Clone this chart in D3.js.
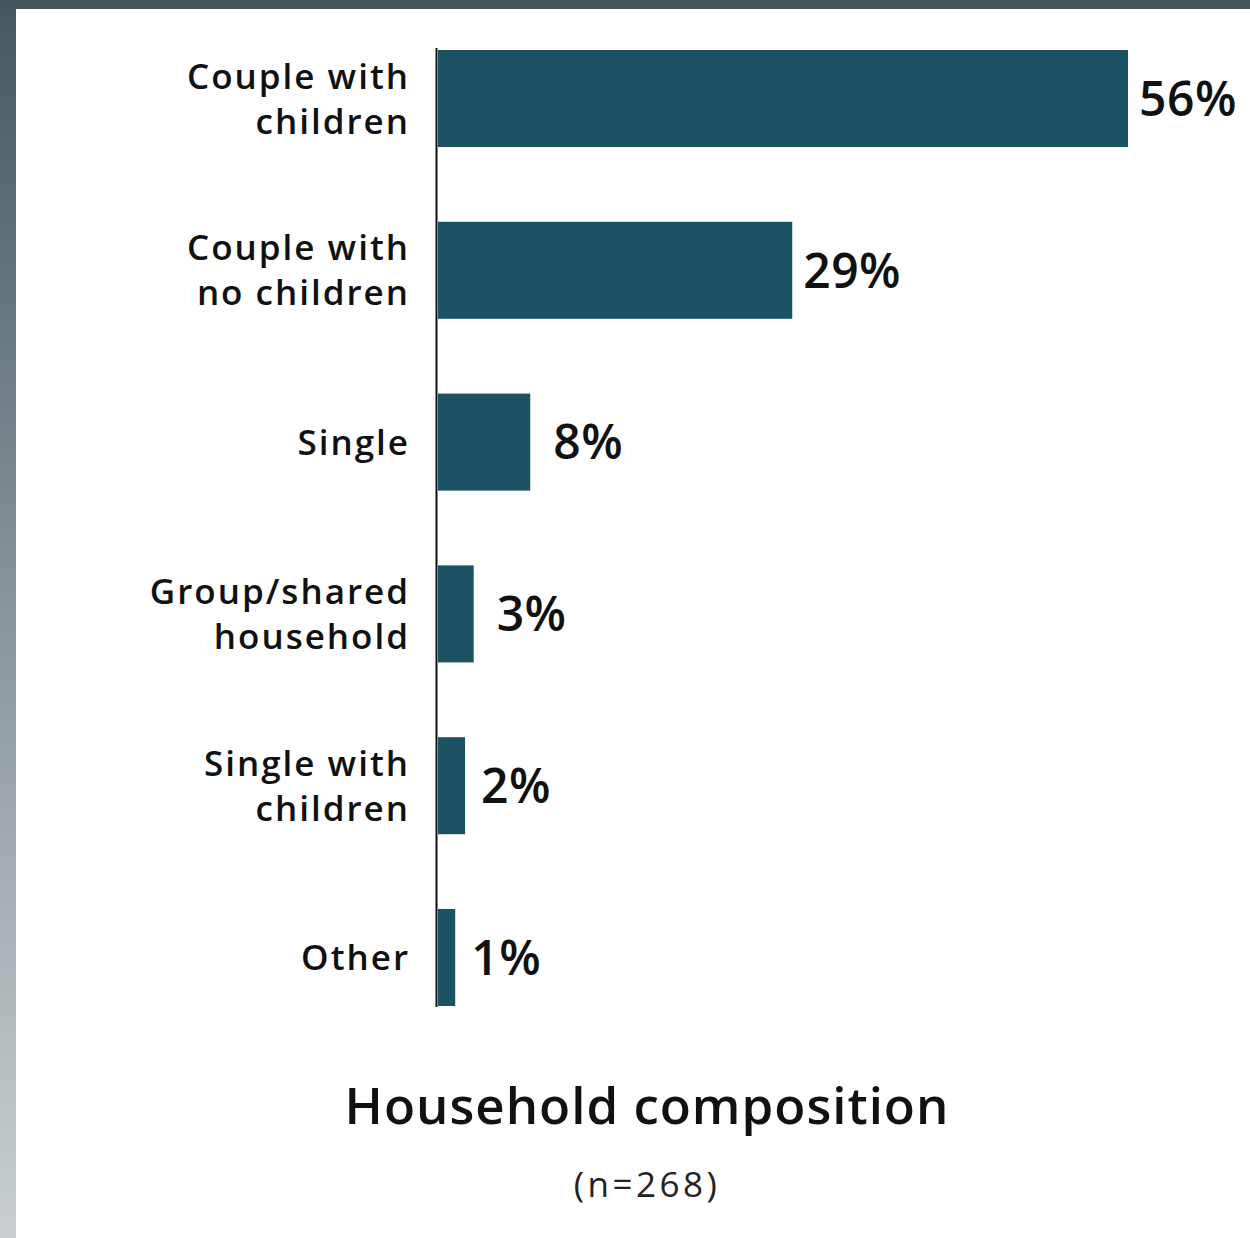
<!DOCTYPE html>
<html>
<head>
<meta charset="utf-8">
<script src="https://cdn.jsdelivr.net/npm/d3@7/dist/d3.min.js"></script>
<style>
html,body{margin:0;padding:0;background:#fff;}
svg{display:block;}
</style>
</head>
<body>
<svg id="chart" width="1250" height="1238"></svg>
<script>
const categories = [
  ["Couple with","children"],
  ["Couple with","no children"],
  ["Single"],
  ["Group/shared","household"],
  ["Single with","children"],
  ["Other"]
];
const categoryKeys = ["Couple with children","Couple with no children","Single","Group/shared household","Single with children","Other"];
const values = [56.1, 28.8, 7.5, 2.9, 2.2, 1.4];
const valueLabels = ["56%","29%","8%","3%","2%","1%"];
const title = "Household composition";
const subtitle = "(n=268)";

const svg = d3.select("#chart");
const W = 1250, H = 1238;
const font = "'Open Sans', sans-serif";

// backdrop
const defs = svg.append("defs");
const grad = defs.append("linearGradient").attr("id","lg").attr("x1",0).attr("y1",0).attr("x2",0).attr("y2",1);
grad.append("stop").attr("offset","0%").attr("stop-color","#46575f");
grad.append("stop").attr("offset","50%").attr("stop-color","#8a969c");
grad.append("stop").attr("offset","100%").attr("stop-color","#c9cfd1");
svg.append("rect").attr("x",0).attr("y",0).attr("width",W).attr("height",H).attr("fill","#fff");
svg.append("rect").attr("x",0).attr("y",0).attr("width",16).attr("height",H).attr("fill","url(#lg)");
svg.append("rect").attr("x",0).attr("y",0).attr("width",W).attr("height",9).attr("fill","#46565e");

const x = d3.scaleLinear().domain([0, 56.1]).range([438, 1128]);
const y = d3.scaleBand().domain(categoryKeys).range([50, 1006]).paddingInner(0.4354).paddingOuter(0);

svg.append("g").selectAll("rect").data(values).join("rect")
  .attr("x", x(0))
  .attr("y", (d,i) => y(categoryKeys[i]))
  .attr("width", d => x(d) - x(0))
  .attr("height", y.bandwidth())
  .attr("fill", "#1a5163");

// axis line
svg.append("line").attr("x1",436.5).attr("x2",436.5)
  .attr("y1", y(categoryKeys[0]) - 2).attr("y2", y(categoryKeys[5]) + y.bandwidth() + 1)
  .attr("stroke","#111").attr("stroke-width",2);

// value labels
svg.append("g").selectAll("text").data(values).join("text")
  .attr("x", d => x(d) + (d > 20 ? 11 : d > 2.5 ? 23 : 16))
  .attr("y", (d,i) => y(categoryKeys[i]) + y.bandwidth()/2)
  .attr("dy","0.36em")
  .attr("font-family", font).attr("font-size", 48).attr("font-weight", 560)
  .attr("letter-spacing", 0.5)
  .attr("fill","#111")
  .text((d,i) => valueLabels[i]);

// category labels
const cl = svg.append("g").selectAll("text").data(categories).join("text")
  .attr("text-anchor","end")
  .attr("font-family", font).attr("font-size", 35).attr("font-weight", 600)
  .attr("letter-spacing", 2)
  .attr("fill","#111")
  .attr("transform", (d,i) => `translate(410,${y(categoryKeys[i]) + y.bandwidth()/2})`);
cl.each(function(lines){
  const t = d3.select(this);
  const n = lines.length;
  lines.forEach((ln, j) => {
    t.append("tspan").attr("x",0)
      .attr("y", (j - (n-1)/2) * 45)
      .attr("dy","0.36em")
      .text(ln);
  });
});

svg.append("text").attr("x",647).attr("y",1124)
  .attr("text-anchor","middle").attr("font-family", font).attr("font-size",51).attr("font-weight",600)
  .attr("letter-spacing", 1)
  .attr("fill","#111").text(title);
svg.append("text").attr("x",647).attr("y",1197)
  .attr("text-anchor","middle").attr("font-family", font).attr("font-size",35).attr("font-weight",400)
  .attr("letter-spacing", 3.5)
  .attr("fill","#222").text(subtitle);
</script>
</body>
</html>
